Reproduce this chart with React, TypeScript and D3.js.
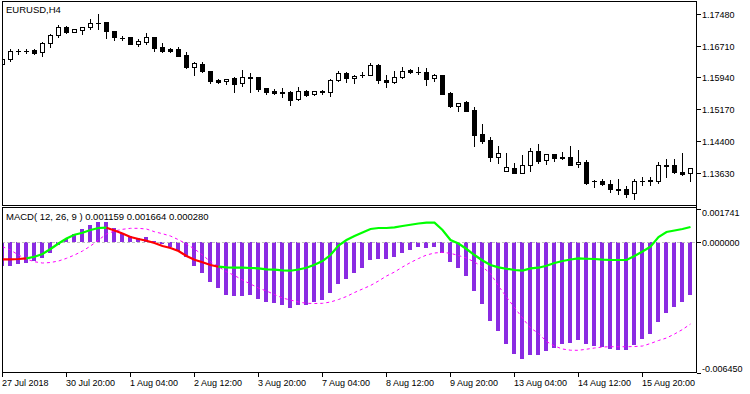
import React from 'react';
import * as d3 from 'd3';

const symbolTitle = 'EURUSD,H4';
const macdTitle = 'MACD( 12, 26, 9 ) 0.001159 0.001664 0.000280';
const timeLabels = ['27 Jul 2018', '30 Jul 20:00', '1 Aug 04:00', '2 Aug 12:00', '3 Aug 20:00', '7 Aug 04:00', '8 Aug 12:00', '9 Aug 20:00', '13 Aug 04:00', '14 Aug 12:00', '15 Aug 20:00'];
const labelEvery = 8;
const priceTicks = [1.1748, 1.1671, 1.1594, 1.1517, 1.144, 1.1363];
const macdTicks = [0.001741, 0.0, -0.00645];

const opens = [1.16262,1.16384,1.16578,1.16578,1.16602,1.16546,1.16765,1.16966,1.17167,1.17031,
1.17094,1.17153,1.17257,1.17274,1.17063,1.16900,1.16910,1.16755,1.16796,1.16910,
1.16675,1.16634,1.16619,1.16473,1.16197,1.16255,1.16093,1.15874,1.15857,1.15915,
1.15794,1.15940,1.15940,1.15673,1.15615,1.15576,1.15583,1.15406,1.15615,1.15527,
1.15600,1.15576,1.15874,1.16051,1.15915,1.16003,1.16003,1.16238,1.15874,1.15818,
1.15940,1.16110,1.16068,1.16068,1.15923,1.15995,1.15552,1.15251,1.15348,1.15146,
1.14564,1.14419,1.13999,1.13674,1.13747,1.13625,1.13805,1.14152,1.13926,1.14079,
1.13999,1.13999,1.13829,1.13885,1.13424,1.13431,1.13344,1.13223,1.13223,1.13126,
1.13424,1.13441,1.13417,1.13805,1.13805,1.13650,1.13611];
const highs = [1.16408,1.16619,1.16634,1.16634,1.16634,1.16789,1.16983,1.17208,1.17192,1.17111,
1.17167,1.17347,1.17468,1.17274,1.17063,1.16942,1.16910,1.16869,1.17014,1.16910,
1.16772,1.16643,1.16675,1.16546,1.16311,1.16311,1.16093,1.15898,1.15906,1.15954,
1.16117,1.16051,1.15940,1.15687,1.15663,1.15687,1.15615,1.15697,1.15632,1.15615,
1.15639,1.15898,1.16100,1.16068,1.15995,1.16061,1.16294,1.16255,1.15995,1.16085,
1.16190,1.16134,1.16197,1.16165,1.16020,1.15995,1.15576,1.15328,1.15365,1.15226,
1.14807,1.14484,1.14273,1.14111,1.13868,1.14047,1.14232,1.14322,1.14079,1.14079,
1.14135,1.14273,1.14176,1.13926,1.13448,1.13465,1.13448,1.13465,1.13303,1.13465,
1.13528,1.13528,1.13885,1.13950,1.13950,1.14096,1.13739];
const lows = [1.16238,1.16335,1.16512,1.16522,1.16498,1.16464,1.16682,1.16910,1.17014,1.17031,
1.16990,1.17104,1.17111,1.16900,1.16852,1.16845,1.16748,1.16706,1.16755,1.16578,
1.16553,1.16561,1.16456,1.16158,1.16003,1.16061,1.15809,1.15809,1.15770,1.15590,
1.15729,1.15590,1.15615,1.15542,1.15527,1.15469,1.15275,1.15389,1.15479,1.15503,
1.15542,1.15493,1.15857,1.15833,1.15809,1.15947,1.15988,1.15809,1.15712,1.15801,
1.15923,1.16051,1.16020,1.15746,1.15857,1.15535,1.15212,1.15129,1.15122,1.14280,
1.14353,1.13916,1.13853,1.13674,1.13625,1.13625,1.13674,1.13853,1.13829,1.13916,
1.13965,1.13805,1.13771,1.13344,1.13271,1.13334,1.13157,1.13116,1.13043,1.12980,
1.13327,1.13320,1.13383,1.13528,1.13611,1.13569,1.13431];
const closes = [1.16384,1.16578,1.16566,1.16566,1.16536,1.16765,1.16966,1.17153,1.17031,1.17111,
1.17153,1.17264,1.17250,1.17056,1.16910,1.16893,1.16755,1.16828,1.16910,1.16658,
1.16578,1.16585,1.16464,1.16182,1.16279,1.16085,1.15850,1.15833,1.15906,1.15777,
1.15940,1.15932,1.15649,1.15583,1.15552,1.15569,1.15389,1.15607,1.15510,1.15607,
1.15593,1.15874,1.16051,1.15915,1.15971,1.15995,1.16231,1.15874,1.15818,1.15954,
1.16100,1.16068,1.16061,1.15906,1.15995,1.15535,1.15243,1.15328,1.15129,1.14547,
1.14402,1.13999,1.14111,1.13764,1.13625,1.13812,1.14159,1.13916,1.14079,1.13982,
1.13992,1.13819,1.13885,1.13383,1.13417,1.13351,1.13223,1.13215,1.13116,1.13424,
1.13417,1.13434,1.13805,1.13798,1.13635,1.13594,1.13739];

const macdHist = [-0.001162,-0.001162,-0.001078,-0.001043,-0.000929,-0.000796,-0.000519,-0.000138,0.000143,0.000390,
0.000638,0.000850,0.000984,0.000984,0.000687,0.000440,0.000306,0.000222,0.000272,0.000074,
-0.000104,-0.000222,-0.000420,-0.000717,-0.001176,-0.001508,-0.001952,-0.002249,-0.002610,-0.002645,
-0.002645,-0.002610,-0.002808,-0.002941,-0.003020,-0.003104,-0.003238,-0.003119,-0.003104,-0.002941,
-0.002857,-0.002496,-0.002066,-0.001819,-0.001508,-0.001275,-0.000880,-0.000830,-0.000830,-0.000732,
-0.000534,-0.000386,-0.000222,-0.000272,-0.000222,-0.000519,-0.000979,-0.001275,-0.001671,-0.002397,
-0.003055,-0.003880,-0.004375,-0.005032,-0.005526,-0.005773,-0.005576,-0.005576,-0.005378,-0.005215,
-0.005017,-0.004983,-0.004834,-0.005017,-0.005116,-0.005180,-0.005264,-0.005314,-0.005314,-0.005067,
-0.004785,-0.004538,-0.003945,-0.003485,-0.003188,-0.002941,-0.002610];
const macdSignal = [-0.000222,-0.000386,-0.000633,-0.000830,-0.000964,-0.001028,-0.001003,-0.000929,-0.000796,-0.000633,
-0.000435,-0.000188,0.000109,0.000405,0.000554,0.000638,0.000687,0.000687,0.000652,0.000519,
0.000420,0.000306,0.000124,-0.000089,-0.000336,-0.000633,-0.000964,-0.001211,-0.001458,-0.001646,
-0.001868,-0.002066,-0.002264,-0.002412,-0.002585,-0.002758,-0.002857,-0.002956,-0.003020,-0.003030,
-0.003020,-0.002956,-0.002832,-0.002684,-0.002486,-0.002313,-0.002140,-0.001918,-0.001671,-0.001473,
-0.001226,-0.001003,-0.000806,-0.000633,-0.000534,-0.000499,-0.000549,-0.000657,-0.000781,-0.000979,
-0.001226,-0.001547,-0.002165,-0.002709,-0.003228,-0.003747,-0.004241,-0.004503,-0.004908,-0.005131,
-0.005279,-0.005338,-0.005343,-0.005289,-0.005230,-0.005180,-0.005165,-0.005165,-0.005165,-0.005156,
-0.005131,-0.005007,-0.004859,-0.004735,-0.004538,-0.004315,-0.004043];
const macdLine = [-0.000845,-0.000845,-0.000830,-0.000796,-0.000717,-0.000583,-0.000336,-0.000064,0.000183,0.000371,
0.000470,0.000603,0.000702,0.000717,0.000578,0.000430,0.000257,0.000158,0.000074,-0.000040,
-0.000188,-0.000287,-0.000435,-0.000682,-0.000865,-0.000994,-0.001127,-0.001211,-0.001241,-0.001260,
-0.001260,-0.001275,-0.001290,-0.001340,-0.001359,-0.001389,-0.001409,-0.001349,-0.001260,-0.001112,
-0.000929,-0.000633,-0.000163,0.000109,0.000306,0.000479,0.000652,0.000702,0.000702,0.000737,
0.000801,0.000865,0.000924,0.000964,0.000964,0.000603,0.000109,-0.000064,-0.000336,-0.000633,
-0.000905,-0.001127,-0.001241,-0.001310,-0.001374,-0.001399,-0.001290,-0.001260,-0.001162,-0.001028,
-0.000929,-0.000855,-0.000796,-0.000816,-0.000830,-0.000865,-0.000880,-0.000880,-0.000880,-0.000682,
-0.000460,-0.000222,0.000257,0.000504,0.000578,0.000652,0.000751];
// R = falling-colour segment, G = rising-colour segment (colour of segment ending at that bar)
const lineState = 'RRRRGGGGGGGGGGRRRRRRRRRRRRRRGGGGGGGGGGGGGGGGGGGGGGGGGGGGGGGGGGGGGGGGGGGGGGGGGGGGGGGGGGG';

const W = 750, H = 394;
const L = 2, R = 696;
const P_TOP = 1, P_BOT = 205, M_TOP = 207, M_BOT = 372;
const FONT = '"Liberation Sans", Arial, sans-serif';

export default function App() {
  const n = opens.length;
  const x = d3.scaleLinear().domain([0, n - 1]).range([2, 2 + 8 * (n - 1)]);
  const yP = d3.scaleLinear().domain([1.1363, 1.1748]).range([172.5, 13.8]);
  const yM = d3.scaleLinear().domain([-0.00645, 0.001741]).range([372.7, 207]);
  const col = (i: number) => Math.round(x(i));

  const candles = d3.range(n).map(i => {
    const c = col(i);
    const o = opens[i], cl = closes[i];
    const yt = Math.round(yP(Math.max(o, cl)));
    const yb = Math.round(yP(Math.min(o, cl)));
    const yh = Math.round(yP(highs[i]));
    const yl = Math.round(yP(lows[i]));
    const bull = cl > o;
    const doji = yb - yt < 1;
    return (
      <g key={i}>
        <line x1={c + 0.5} x2={c + 0.5} y1={yh} y2={yl + 1} stroke="#000" strokeWidth={1} />
        {doji ? (
          <line x1={c - 2} x2={c + 3} y1={yt + 0.5} y2={yt + 0.5} stroke="#000" strokeWidth={1} />
        ) : bull ? (
          <rect x={c - 1.5} y={yt + 0.5} width={4} height={yb - yt} fill="#fff" stroke="#000" strokeWidth={1} />
        ) : (
          <rect x={c - 2} y={yt} width={5} height={yb - yt + 1} fill="#000" />
        )}
      </g>
    );
  });

  const y0 = Math.round(yM(0));
  const bars = macdHist.map((v, i) => {
    const c = col(i);
    const yv = Math.round(yM(v));
    return <rect key={i} x={c - 2} y={Math.min(y0, yv)} width={4} height={Math.max(1, Math.abs(yv - y0))} fill="#8A2BE2" />;
  });

  const sigLine = d3.line<number>().x((_, i) => x(i) + 0.5).y(v => yM(v))(macdSignal) || '';

  const runs: { color: string; from: number; to: number }[] = [];
  for (let i = 1; i < n; i++) {
    const c = lineState[i] === 'R' ? '#FF0000' : '#00FF00';
    const last = runs[runs.length - 1];
    if (last && last.color === c) last.to = i;
    else runs.push({ color: c, from: i - 1, to: i });
  }
  const lineGen = d3.line<number>().x(i => x(i) + 0.5).y(i => yM(macdLine[i]));

  return (
    <svg width={W} height={H} style={{ position: 'absolute', left: 0, top: 0, background: '#fff' }} shapeRendering="crispEdges">
      <defs>
        <clipPath id="pc"><rect x={L + 1} y={P_TOP + 1} width={R - L - 1} height={P_BOT - P_TOP - 1} /></clipPath>
        <clipPath id="mc"><rect x={L + 1} y={M_TOP + 1} width={R - L - 1} height={M_BOT - M_TOP - 1} /></clipPath>
      </defs>
      <rect x={0} y={0} width={W} height={H} fill="#fff" />

      <g clipPath="url(#pc)">{candles}</g>
      <text x={6} y={12.5} fontFamily={FONT} fontSize={9.5} fill="#000">{symbolTitle}</text>

      <g clipPath="url(#mc)">
        {bars}
        <line x1={L} x2={R} y1={y0 + 0.5} y2={y0 + 0.5} stroke="#C0C0C0" strokeDasharray="3,2" />
        <path d={sigLine} fill="none" stroke="#FF00FF" strokeWidth={1} strokeDasharray="3,3" shapeRendering="auto" />
        {runs.map((r, j) => (
          <path key={j} d={lineGen(d3.range(r.from, r.to + 1)) || ''} fill="none" stroke={r.color} strokeWidth={2.2} shapeRendering="auto" />
        ))}
      </g>
      <text x={6} y={219.5} fontFamily={FONT} fontSize={9.5} fill="#000">{macdTitle}</text>

      <line x1={L} x2={R + 1} y1={P_TOP + 0.5} y2={P_TOP + 0.5} stroke="#000" />
      <line x1={L} x2={R + 1} y1={P_BOT + 0.5} y2={P_BOT + 0.5} stroke="#000" />
      <line x1={L} x2={R + 1} y1={M_TOP + 0.5} y2={M_TOP + 0.5} stroke="#000" />
      <line x1={L} x2={R + 1} y1={M_BOT + 0.5} y2={M_BOT + 0.5} stroke="#000" />
      <line x1={L + 0.5} x2={L + 0.5} y1={P_TOP} y2={P_BOT + 1} stroke="#000" />
      <line x1={L + 0.5} x2={L + 0.5} y1={M_TOP} y2={M_BOT + 1} stroke="#000" />
      <line x1={R + 0.5} x2={R + 0.5} y1={P_TOP} y2={M_BOT + 1} stroke="#000" />

      {priceTicks.map((t, i) => {
        const yy = Math.round(yP(t));
        return (
          <g key={i}>
            <line x1={R + 1} x2={R + 5} y1={yy + 0.5} y2={yy + 0.5} stroke="#000" />
            <text x={R + 6} y={yy + 3.5} fontFamily={FONT} fontSize={9} fill="#000">{t.toFixed(5)}</text>
          </g>
        );
      })}

      {macdTicks.map((t, i) => {
        const yy = Math.round(yM(t));
        const ty = i === 0 ? yy + 9 : i === macdTicks.length - 1 ? yy - 1.5 : yy + 3.5;
        return (
          <g key={i}>
            <line x1={R + 1} x2={R + 5} y1={yy + (i === 0 ? 2.5 : 0.5)} y2={yy + (i === 0 ? 2.5 : 0.5)} stroke="#000" />
            <text x={R + 6} y={ty} fontFamily={FONT} fontSize={9} fill="#000">{t.toFixed(6)}</text>
          </g>
        );
      })}

      {timeLabels.map((lab, j) => {
        const c = col(j * labelEvery);
        return (
          <g key={j}>
            <line x1={c + 0.5} x2={c + 0.5} y1={M_BOT + 1} y2={M_BOT + 5} stroke="#000" />
            <text x={c} y={385.5} fontFamily={FONT} fontSize={9} fill="#000">{lab}</text>
          </g>
        );
      })}
    </svg>
  );
}
